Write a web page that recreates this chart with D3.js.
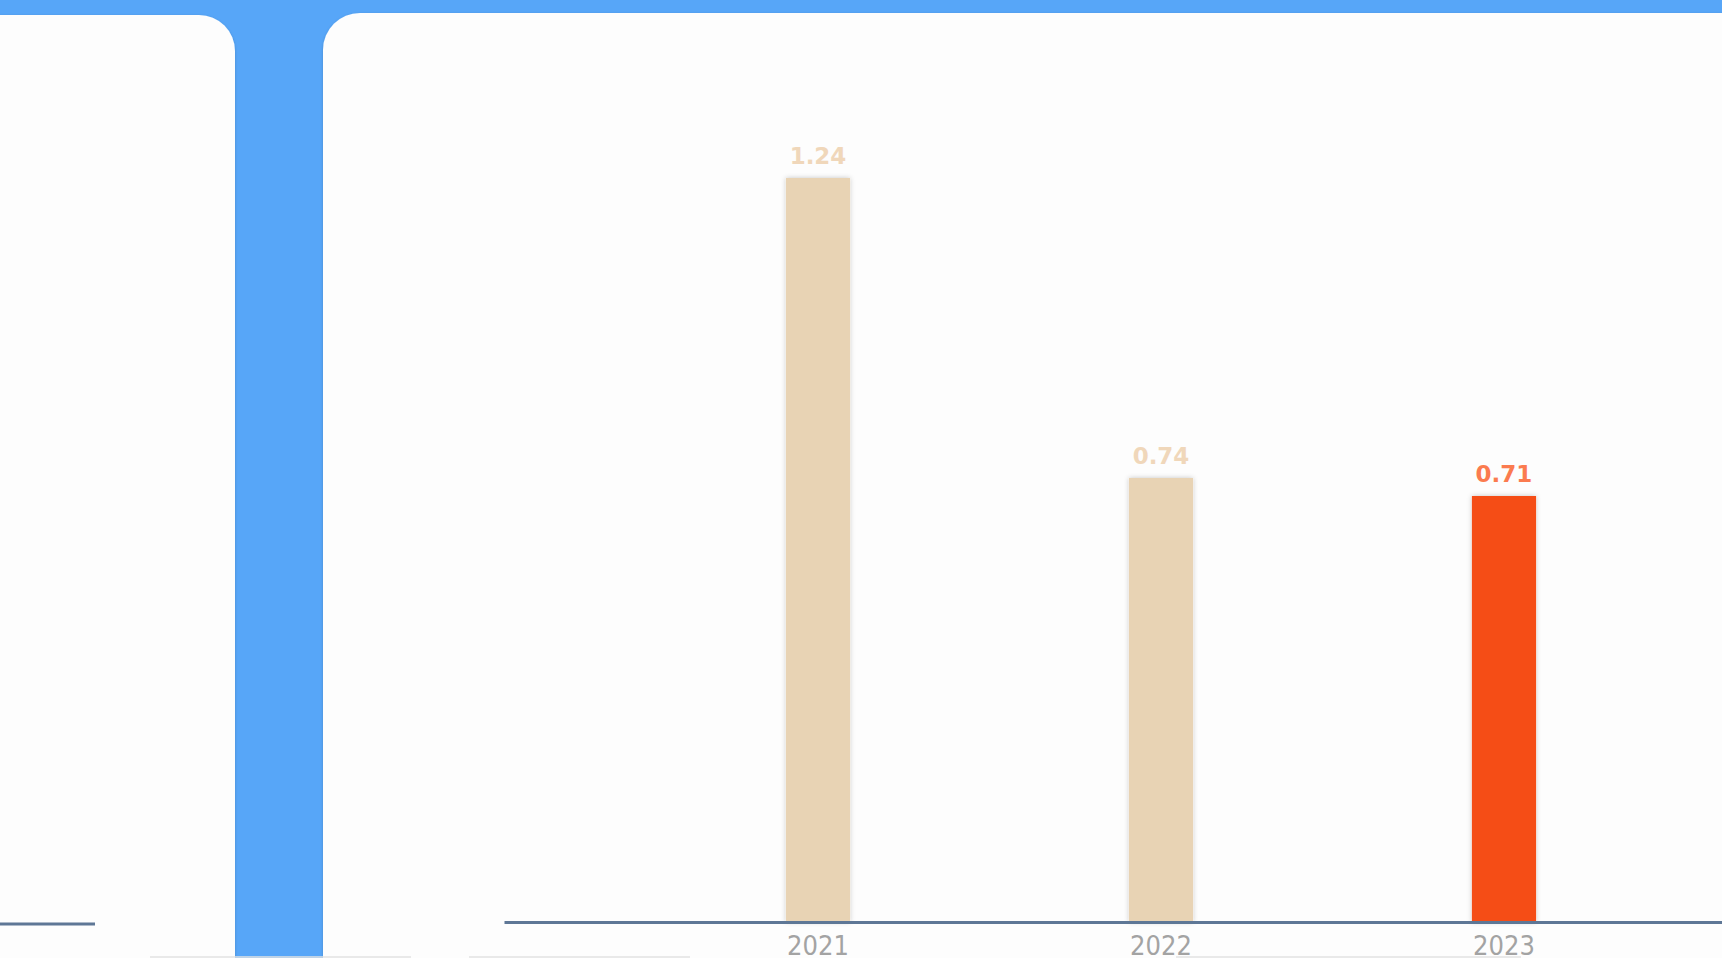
<!DOCTYPE html>
<meta charset="utf-8">
<script src="https://d3js.org/d3.v7.min.js"></script>
<style>
  html, body { margin: 0; padding: 0; background: #57a6f8; overflow: hidden; }
</style>
<div id="my_dataviz"></div>
<script>

// data
var years = ["2021", "2022", "2023"];
var values = [1.24, 0.74, 0.71];
var labels = ["1.24", "0.74", "0.71"];

var W = 1722, H = 958;

var svg = d3.select("#my_dataviz")
  .append("svg")
    .attr("width", W)
    .attr("height", H);

var defs = svg.append("defs");
var sh = defs.append("filter").attr("id", "shadow")
  .attr("x", "-20%").attr("y", "-20%").attr("width", "140%").attr("height", "140%");
sh.append("feDropShadow").attr("dx", 0).attr("dy", 0).attr("stdDeviation", 2.5)
  .attr("flood-color", "#000").attr("flood-opacity", 0.22);
var psh = defs.append("filter").attr("id", "pshadow")
  .attr("x", "-5%").attr("y", "-5%").attr("width", "110%").attr("height", "110%");
psh.append("feDropShadow").attr("dx", 0).attr("dy", 1).attr("stdDeviation", 1.5)
  .attr("flood-color", "#000").attr("flood-opacity", 0.18);

// blue background
svg.append("rect").attr("width", W).attr("height", H).attr("fill", "#57a6f8");

// left panel (only its right edge visible)
svg.append("path")
  .attr("d", "M0,15 H199 A36,36 0 0 1 235,51 V" + (H + 5) + " H-5 V15 Z")
  .attr("fill", "#fdfdfd")
  .attr("filter", "url(#pshadow)");
svg.append("line")
  .attr("x1", 0).attr("x2", 95).attr("y1", 924).attr("y2", 924)
  .attr("stroke", "#5e7796").attr("stroke-width", 3);

// right panel
svg.append("path")
  .attr("d", "M323," + (H + 5) + " V50 A37,37 0 0 1 360,13 H" + (W + 5) + " V" + (H + 5) + " Z")
  .attr("fill", "#fdfdfd")
  .attr("filter", "url(#pshadow)");

// faint edges of whatever sits below
[[150, 411], [469, 690], [1176, 1521]].forEach(function(s) {
  svg.append("line")
    .attr("x1", s[0]).attr("x2", s[1]).attr("y1", 957).attr("y2", 957)
    .attr("stroke", "#e2e2e2").attr("stroke-width", 1.5);
});

// chart
var baseY = 922;

var x = d3.scaleBand()
  .domain(years)
  .range([504, 1818])
  .paddingInner(0.813)
  .paddingOuter(0.822);

var y = d3.scaleLinear()
  .domain([0, 1.3])
  .range([baseY, baseY - 780]);

// bars
svg.selectAll("mybar")
  .data(years)
  .enter()
  .append("rect")
    .attr("x", function(d) { return x(d); })
    .attr("y", function(d, i) { return y(values[i]); })
    .attr("width", x.bandwidth())
    .attr("height", function(d, i) { return baseY - y(values[i]); })
    .attr("fill", function(d, i) { return i === years.length - 1 ? "#f54d12" : "#e8d3b4"; })
    .attr("filter", "url(#shadow)");

// value labels
svg.selectAll("mylabel")
  .data(years)
  .enter()
  .append("text")
    .attr("x", function(d) { return x(d) + x.bandwidth() / 2; })
    .attr("y", function(d, i) { return y(values[i]) - 14; })
    .attr("text-anchor", "middle")
    .style("font-family", "'DejaVu Sans', Verdana, sans-serif")
    .style("font-weight", "bold")
    .style("font-size", "23px")
    .style("fill", function(d, i) { return i === years.length - 1 ? "#fb7b4f" : "#f0d7ba"; })
    .text(function(d, i) { return labels[i]; });

// X axis
var axis = svg.append("g")
  .attr("transform", "translate(0," + baseY + ")")
  .call(d3.axisBottom(x).tickSize(0).tickPadding(0));

axis.select(".domain")
  .attr("stroke", "#5e7796")
  .attr("stroke-width", 3);

axis.selectAll("text")
  .attr("y", 33)
  .attr("dy", 0)
  .style("font-family", "'DejaVu Sans Condensed', 'DejaVu Sans', sans-serif")
  .style("font-stretch", "condensed")
  .style("font-size", "27px")
  .style("fill", "#a3a3a3");

</script>
